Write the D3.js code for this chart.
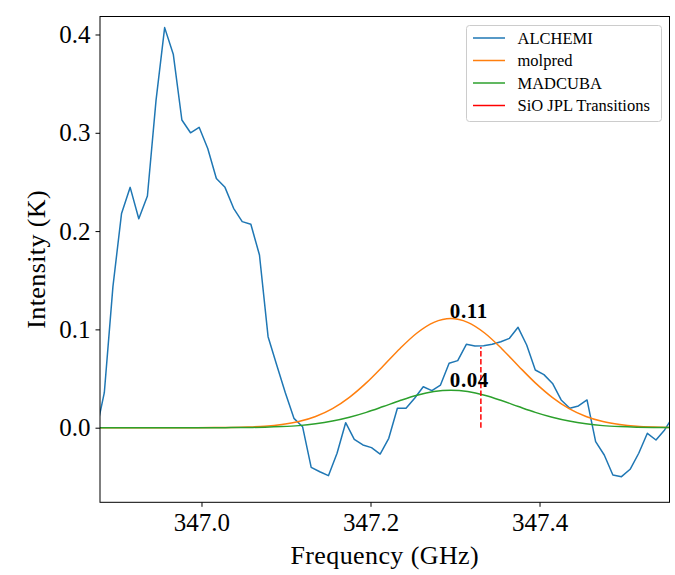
<!DOCTYPE html>
<html>
<head>
<meta charset="utf-8">
<script src="https://cdn.jsdelivr.net/npm/d3@7"></script>
<style>
  html, body { margin: 0; padding: 0; background: #fff; }
  svg { display: block; }
  text { font-family: "Liberation Serif", "DejaVu Serif", serif; fill: #000; }
</style>
</head>
<body>
<svg id="chart" width="675" height="575"></svg>
<script>
// Observed spectrum (ALCHEMI), channel frequencies in GHz and intensities in K
const freq = [
  346.8748, 346.8850, 346.8952, 346.9054, 346.9156, 346.9258, 346.9360, 346.9462,
  346.9564, 346.9666, 346.9768, 346.9870, 346.9972, 347.0074, 347.0176, 347.0278,
  347.0380, 347.0482, 347.0584, 347.0686, 347.0788, 347.0890, 347.0992, 347.1094,
  347.1196, 347.1298, 347.1400, 347.1502, 347.1604, 347.1706, 347.1808, 347.1910,
  347.2012, 347.2114, 347.2216, 347.2318, 347.2420, 347.2522, 347.2624, 347.2726,
  347.2828, 347.2930, 347.3032, 347.3134, 347.3236, 347.3338, 347.3440, 347.3542,
  347.3644, 347.3746, 347.3848, 347.3950, 347.4052, 347.4154, 347.4256, 347.4358,
  347.4460, 347.4562, 347.4664, 347.4766, 347.4868, 347.4970, 347.5072, 347.5174,
  347.5276, 347.5378, 347.5480, 347.5582
];
const alchemi = [
  -0.006, 0.0356, 0.1435, 0.218, 0.2445, 0.2126, 0.2357, 0.333,
  0.407, 0.380, 0.313, 0.300, 0.3056, 0.284, 0.2535, 0.2445,
  0.2232, 0.2096, 0.2069, 0.1757, 0.0926, 0.0638, 0.0356, 0.0095,
  0.001, -0.0403, -0.0448, -0.0488, -0.026, 0.0051, -0.0118, -0.0176,
  -0.0203, -0.0268, -0.0108, 0.0197, 0.0197, 0.030, 0.0417, 0.0377,
  0.0434, 0.0655, 0.0682, 0.0848, 0.0831, 0.0834, 0.0848, 0.0875,
  0.0909, 0.1021, 0.0841, 0.0587, 0.054, 0.045, 0.0282, 0.0197,
  0.0221, 0.0282, -0.0142, -0.0278, -0.0481, -0.0498, -0.0423, -0.026,
  -0.0057, -0.0125, -0.0023, 0.0117
];

// Model spectra sampled on a coarser grid (GHz, K)
const modelFreq = [
  346.875, 346.895, 346.915, 346.935, 346.955, 346.975, 346.995, 347.015,
  347.035, 347.055, 347.075, 347.095, 347.115, 347.135, 347.155, 347.175,
  347.195, 347.215, 347.235, 347.255, 347.275, 347.295, 347.315, 347.335,
  347.355, 347.375, 347.395, 347.415, 347.435, 347.455, 347.475, 347.495,
  347.515, 347.535, 347.555
];
const molpred = [
  0, 0, 0, 0, 0, 0, 0, 0.0001,
  0.0003, 0.0007, 0.0015, 0.0032, 0.0062, 0.0114, 0.0194, 0.0309,
  0.0456, 0.0628, 0.0806, 0.0963, 0.1071, 0.111, 0.1071, 0.0963,
  0.0806, 0.0628, 0.0456, 0.0309, 0.0194, 0.0114, 0.0062, 0.0032,
  0.0015, 0.0007, 0.0003
];
const madcuba = [
  0, 0, 0, 0, 0, 0, 0, 0,
  0.0001, 0.0002, 0.0005, 0.0011, 0.0021, 0.0039, 0.0067, 0.0106,
  0.0156, 0.0215, 0.0276, 0.0330, 0.0367, 0.038, 0.0367, 0.0330,
  0.0276, 0.0215, 0.0156, 0.0106, 0.0067, 0.0039, 0.0021, 0.0011,
  0.0005, 0.0002, 0.0001
];

// SiO transition from the JPL catalogue
const sioFreq = [347.3306];
const sioTop = [0.082];

// Axis ticks and legend entries
const xTicks = [347.0, 347.2, 347.4];
const yTicks = [0.0, 0.1, 0.2, 0.3, 0.4];
const legendNames = ["ALCHEMI", "molpred", "MADCUBA", "SiO JPL Transitions"];
const legendColors = ["#1f77b4", "#ff7f0e", "#2ca02c", "#ff0000"];

const svg = d3.select("#chart");
const margin = { left: 100, right: 5.5, top: 16.5, bottom: 72.7 };
const W = 675, H = 575;
const x = d3.scaleLinear().domain([346.8799, 347.5538]).range([margin.left, W - margin.right]);
const y = d3.scaleLinear().domain([-0.0759, 0.4183]).range([H - margin.bottom, margin.top]);

svg.append("defs").append("clipPath").attr("id", "plotclip")
  .append("rect")
  .attr("x", x.range()[0]).attr("y", y.range()[1])
  .attr("width", x.range()[1] - x.range()[0])
  .attr("height", y.range()[0] - y.range()[1]);

const plot = svg.append("g").attr("clip-path", "url(#plotclip)");

const line = d3.line().x(d => x(d[0])).y(d => y(d[1]));
const smooth = d3.line().x(d => x(d[0])).y(d => y(d[1])).curve(d3.curveMonotoneX);

plot.append("path")
  .datum(d3.zip(freq, alchemi))
  .attr("d", line)
  .attr("fill", "none").attr("stroke", legendColors[0]).attr("stroke-width", 1.5)
  .attr("stroke-linejoin", "round");

plot.append("path")
  .datum(d3.zip(modelFreq, molpred))
  .attr("d", smooth)
  .attr("fill", "none").attr("stroke", legendColors[1]).attr("stroke-width", 1.5);

plot.append("path")
  .datum(d3.zip(modelFreq, madcuba))
  .attr("d", smooth)
  .attr("fill", "none").attr("stroke", legendColors[2]).attr("stroke-width", 1.5);

plot.selectAll("line.sio")
  .data(d3.zip(sioFreq, sioTop))
  .join("line").attr("class", "sio")
  .attr("x1", d => x(d[0])).attr("x2", d => x(d[0]))
  .attr("y1", y(0)).attr("y2", d => y(d[1]))
  .attr("stroke", legendColors[3]).attr("stroke-width", 1.5)
  .attr("stroke-dasharray", "5.5,2.4");

// Peak labels of the two models
const fmt2 = d3.format(".2f");
[molpred, madcuba].forEach(series => {
  const i = d3.maxIndex(series);
  const v = series[i];
  svg.append("text")
    .attr("x", x(modelFreq[i]) - 1)
    .attr("y", y(+fmt2(v)) - 1.5)
    .attr("font-size", 21)
    .attr("font-weight", "bold")
    .attr("letter-spacing", 0.6)
    .text(fmt2(v));
});

// Axes
const xAxis = d3.axisBottom(x).tickValues(xTicks).tickFormat(d3.format(".1f")).tickSizeOuter(0).tickSize(4.5).tickPadding(6);
const yAxis = d3.axisLeft(y).tickValues(yTicks).tickFormat(d3.format(".1f")).tickSizeOuter(0).tickSize(4.5).tickPadding(5);

const gx = svg.append("g").attr("transform", `translate(0,${y.range()[0]})`).call(xAxis);
const gy = svg.append("g").attr("transform", `translate(${x.range()[0]},0)`).call(yAxis);
[gx, gy].forEach(g => {
  g.select(".domain").remove();
  g.selectAll(".tick line").attr("stroke", "#000").attr("stroke-width", 1);
  g.selectAll(".tick text")
    .attr("font-family", "Liberation Serif, serif")
    .attr("font-size", 25).attr("fill", "#000");
});

// Frame
svg.append("rect")
  .attr("x", x.range()[0]).attr("y", y.range()[1])
  .attr("width", x.range()[1] - x.range()[0])
  .attr("height", y.range()[0] - y.range()[1])
  .attr("fill", "none").attr("stroke", "#000").attr("stroke-width", 1);

// Axis titles
svg.append("text")
  .attr("x", (x.range()[0] + x.range()[1]) / 2)
  .attr("y", 564)
  .attr("text-anchor", "middle")
  .attr("font-size", 26)
  .attr("letter-spacing", 0.4)
  .text("Frequency (GHz)");

svg.append("text")
  .attr("transform", `translate(45,${(y.range()[0] + y.range()[1]) / 2}) rotate(-90)`)
  .attr("text-anchor", "middle")
  .attr("font-size", 26)
  .attr("letter-spacing", 0.4)
  .text("Intensity (K)");

// Legend
const leg = svg.append("g");
leg.append("rect")
  .attr("x", 466.5).attr("y", 25.5).attr("width", 195).attr("height", 96)
  .attr("rx", 3).attr("ry", 3)
  .attr("fill", "#fff").attr("fill-opacity", 0.8)
  .attr("stroke", "#cccccc").attr("stroke-width", 1);

const rows = leg.selectAll("g.row").data(legendNames)
  .join("g").attr("class", "row")
  .attr("transform", (d, i) => `translate(0,${38 + i * 22.5})`);
rows.append("line")
  .attr("x1", 473).attr("x2", 505).attr("y1", 0).attr("y2", 0)
  .attr("stroke", (d, i) => legendColors[i]).attr("stroke-width", 1.5);
rows.append("text")
  .attr("x", 517.5).attr("y", 5.5)
  .attr("font-size", 16.5)
  .text(d => d);
</script>
</body>
</html>
